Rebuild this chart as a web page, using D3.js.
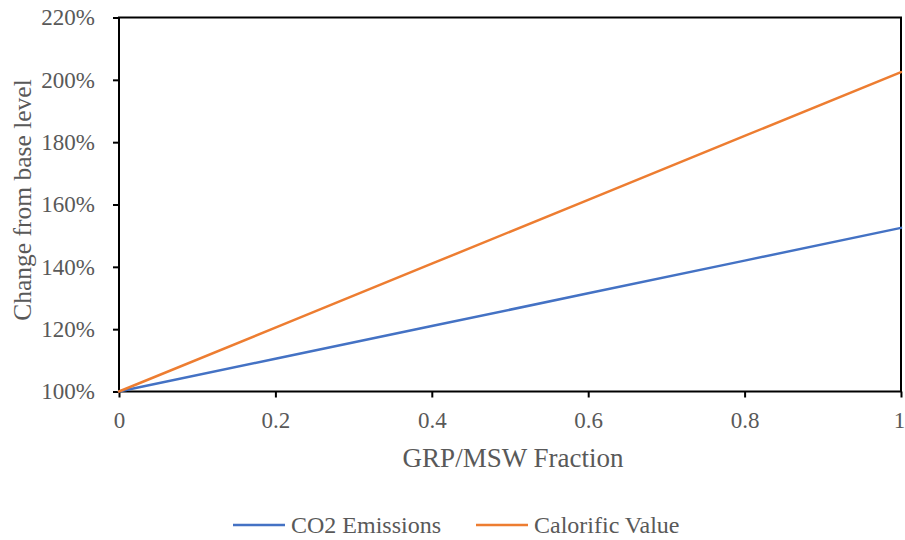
<!DOCTYPE html>
<html>
<head>
<meta charset="utf-8">
<script src="https://cdn.jsdelivr.net/npm/d3@7"></script>
<style>
  html, body { margin: 0; padding: 0; background: #fff; }
  svg { display: block; }
  text { font-family: "Liberation Serif", "Times New Roman", serif; fill: #595959; }
</style>
</head>
<body>
<svg id="chart" width="905" height="540"></svg>
<script>
// GRP share in the MSW feed and the resulting change relative to the base case (%)
const fractions = [0, 0.2, 0.4, 0.6, 0.8, 1];
const co2Emissions = [100, 110.5, 121, 131.5, 142, 152.5];
const calorificValue = [100, 120.5, 141, 161.5, 182, 202.5];
const xTicks = [0, 0.2, 0.4, 0.6, 0.8, 1];
const yTicks = [100, 120, 140, 160, 180, 200, 220];
const seriesNames = ["CO2 Emissions", "Calorific Value"];
const seriesColors = ["#4472C4", "#ED7D31"];

const svg = d3.select("#chart");
const plotLeft = 119, plotRight = 901, plotTop = 17.5, plotBottom = 391.5;

const x = d3.scaleLinear().domain([0, 1]).range([plotLeft, plotRight]);
const y = d3.scaleLinear().domain([100, 220]).range([plotBottom, plotTop]);

// frame
svg.append("rect")
  .attr("x", plotLeft).attr("y", plotTop)
  .attr("width", plotRight - plotLeft).attr("height", plotBottom - plotTop)
  .attr("fill", "none").attr("stroke", "#000").attr("stroke-width", 2);

// y axis
const yAxis = svg.append("g").attr("transform", `translate(${plotLeft},0)`)
  .call(d3.axisLeft(y).tickValues(yTicks).tickSize(6).tickPadding(18)
    .tickFormat(d => d + "%"));
yAxis.select(".domain").remove();
yAxis.selectAll(".tick line").attr("stroke", "#000").attr("stroke-width", 2);
yAxis.selectAll(".tick text").attr("font-size", 23).attr("fill", "#595959");

// x axis
const xAxis = svg.append("g").attr("transform", `translate(0,${plotBottom})`)
  .call(d3.axisBottom(x).tickValues(xTicks).tickSize(6).tickPadding(14)
    .tickFormat(d => d3.format("~g")(d)));
xAxis.select(".domain").remove();
xAxis.selectAll(".tick line").attr("stroke", "#000").attr("stroke-width", 2);
xAxis.selectAll(".tick text").attr("font-size", 23).attr("fill", "#595959");
// keep the last label inside the page edge
xAxis.selectAll(".tick text").filter(d => d === 1).attr("dx", -2);

// series lines
const line = d3.line().x((d, i) => x(fractions[i])).y(d => y(d));
[co2Emissions, calorificValue].forEach((vals, k) => {
  svg.append("path")
    .datum(vals)
    .attr("d", line)
    .attr("fill", "none")
    .attr("stroke", seriesColors[k])
    .attr("stroke-width", 2.5)
    .attr("stroke-linecap", "round");
});

// axis titles
svg.append("text")
  .attr("x", 513).attr("y", 467)
  .attr("text-anchor", "middle").attr("font-size", 27)
  .text("GRP/MSW Fraction");

svg.append("text")
  .attr("transform", "translate(31,200) rotate(-90)")
  .attr("text-anchor", "middle").attr("font-size", 25.5)
  .text("Change from base level");

// legend
const legendItems = [
  { x: 233, name: seriesNames[0], color: seriesColors[0] },
  { x: 476, name: seriesNames[1], color: seriesColors[1] }
];
legendItems.forEach(it => {
  svg.append("line")
    .attr("x1", it.x).attr("x2", it.x + 52)
    .attr("y1", 525).attr("y2", 525)
    .attr("stroke", it.color).attr("stroke-width", 2.5);
  svg.append("text")
    .attr("x", it.x + 58).attr("y", 533)
    .attr("font-size", 24)
    .text(it.name);
});
</script>
</body>
</html>
